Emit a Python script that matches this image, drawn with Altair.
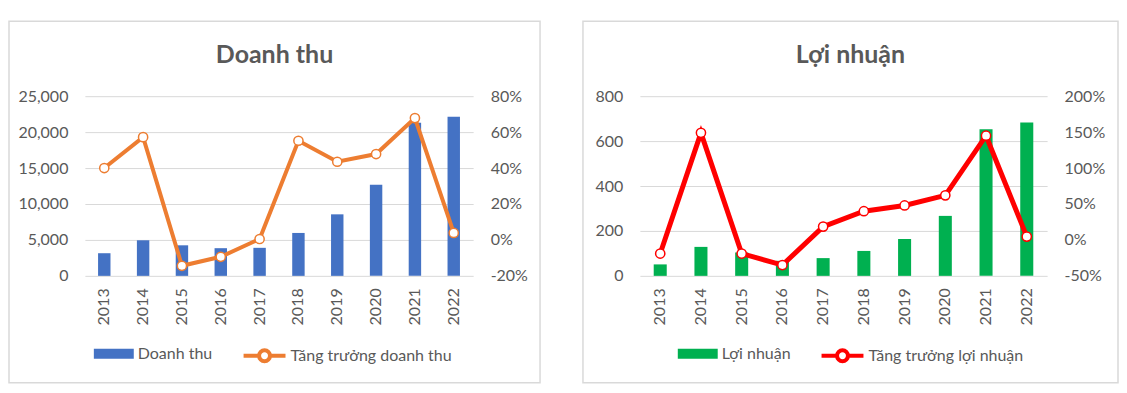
import altair as alt
import pandas as pd

years = ["2013", "2014", "2015", "2016", "2017", "2018", "2019", "2020", "2021", "2022"]
revenue = [3150, 4950, 4250, 3850, 3900, 5970, 8560, 12690, 21300, 22130]
revenue_growth = [0.40, 0.572, -0.144, -0.094, 0.005, 0.552, 0.435, 0.478, 0.678, 0.039]
profit = [51, 129, 104, 67, 79, 111, 164, 267, 653, 683]
profit_growth = [-0.19, 1.49, -0.19, -0.35, 0.185, 0.40, 0.48, 0.62, 1.45, 0.046]

rev_ticks = [0, 5000, 10000, 15000, 20000, 25000]
rev_growth_ticks = [-0.2, 0.0, 0.2, 0.4, 0.6, 0.8]
profit_ticks = [0, 200, 400, 600, 800]
profit_growth_ticks = [-0.5, 0.0, 0.5, 1.0, 1.5, 2.0]

FONT = "Lato"
GRAY = "#595959"
GRID = "#D9D9D9"
FS = 16

BAR_PATH = "M-1,-0.25L1,-0.25L1,0.25L-1,0.25Z"
LINE_PATH = "M-1,0L-0.26,0M0.26,0L1,0M0.26,0A0.26,0.26,0,1,1,-0.26,0A0.26,0.26,0,1,1,0.26,0"
PCT_EXPR = "(datum.value < 0 ? '-' : '') + format(abs(datum.value), '.0%')"


def panel(title, width, vals, growth, val_name, growth_name,
          bar_color, line_color, val_ticks, growth_ticks, val_fmt,
          frame, leg_bar_x, leg_line_x, line_w):
    df = pd.DataFrame({"year": years, "val": vals, "growth": growth})
    base = alt.Chart(df).transform_calculate(
        s1=f"'{val_name}'", s2=f"'{growth_name}'"
    )
    x = alt.X(
        "year:O", title=None,
        scale=alt.Scale(paddingInner=0.68, paddingOuter=0.34),
        axis=alt.Axis(labelAngle=-90, domain=False, ticks=False, labelPadding=12,
                      labelFontSize=FS, labelColor=GRAY, labelFont=FONT),
    )
    bars = base.mark_bar().encode(
        x=x,
        y=alt.Y("val:Q", title=None,
                scale=alt.Scale(domain=[val_ticks[0], val_ticks[-1]], nice=False),
                axis=alt.Axis(values=val_ticks, format=val_fmt, domain=False, ticks=False,
                              grid=True, gridColor=GRID, gridWidth=1, labelPadding=17,
                              labelFontSize=FS, labelColor=GRAY, labelFont=FONT)),
        fill=alt.Fill("s1:N", title=None,
                      scale=alt.Scale(domain=[val_name], range=[bar_color]),
                      legend=alt.Legend(orient="none", legendX=leg_bar_x, legendY=238,
                                        symbolType=BAR_PATH, symbolSize=1600,
                                        symbolStrokeWidth=0, labelFontSize=FS,
                                        labelColor=GRAY, labelFont=FONT, padding=0,
                                        labelOffset=4, labelLimit=400)),
    )
    ygrowth = alt.Y("growth:Q", title=None,
                    scale=alt.Scale(domain=[growth_ticks[0], growth_ticks[-1]], nice=False),
                    axis=alt.Axis(orient="right", values=growth_ticks, labelExpr=PCT_EXPR,
                                  domain=False, ticks=False, grid=False, labelPadding=17,
                                  labelFontSize=FS, labelColor=GRAY, labelFont=FONT))
    line = base.mark_line(strokeWidth=line_w).encode(
        x=x, y=ygrowth,
        stroke=alt.Stroke("s2:N", title=None,
                          scale=alt.Scale(domain=[growth_name], range=[line_color]),
                          legend=alt.Legend(orient="none", legendX=leg_line_x, legendY=237,
                                            symbolType=LINE_PATH, symbolSize=1764,
                                            symbolStrokeWidth=4, symbolFillColor="white",
                                            labelFontSize=FS, labelColor=GRAY,
                                            labelFont=FONT, padding=0, labelOffset=3,
                                            labelLimit=400)),
    )
    pts = base.mark_point(filled=True, fill="white", stroke=line_color, strokeWidth=1.5,
                          size=85, opacity=1).encode(x=x, y=ygrowth)
    one = alt.Chart(pd.DataFrame({"t": [title]}))
    fr = one.mark_rect(fill=None, stroke=GRID, strokeWidth=1.5).encode(
        x=alt.value(frame[0]), x2=alt.value(frame[1]),
        y=alt.value(frame[2]), y2=alt.value(frame[3]),
    )
    ttl = one.mark_text(fontSize=25, fontWeight="bold", color=GRAY, font=FONT,
                        align="center", baseline="alphabetic").encode(
        text="t:N",
        x=alt.value((frame[0] + frame[1]) / 2),
        y=alt.value(-33),
    )
    return alt.layer(fr, ttl, bars, alt.layer(line, pts)).resolve_scale(
        y="independent"
    ).properties(width=width, height=180)


left = panel("Doanh thu", 389, revenue, revenue_growth, "Doanh thu",
             "Tăng trưởng doanh thu", "#4472C4", "#ED7D31", rev_ticks,
             rev_growth_ticks, ",.0f", (-76, 456, -75, 287), 9, 157, 4)
right = panel("Lợi nhuận", 408, profit, profit_growth, "Lợi nhuận",
              "Tăng trưởng lợi nhuận", "#00B050", "#FF0000", profit_ticks,
              profit_growth_ticks, ",.0f", (-57, 479, -75, 287), 38, 180, 5)

chart = alt.hconcat(left, right, spacing=167, bounds="flush").resolve_scale(
    fill="independent", stroke="independent"
).properties(
    padding={"left": 0, "top": 12, "right": 0, "bottom": 0}
).configure_view(stroke=None)

chart.save("out.html", embed_options={"renderer": "svg", "actions": False})
